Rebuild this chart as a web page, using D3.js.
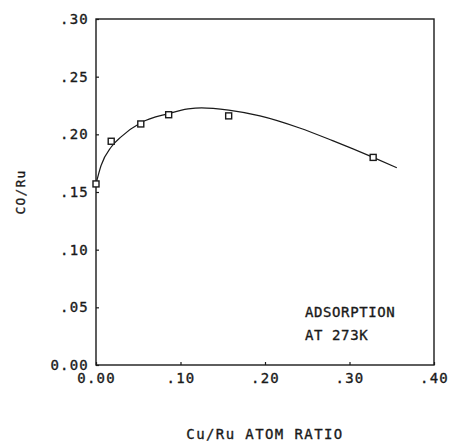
<!DOCTYPE html>
<html>
<head>
<meta charset="utf-8">
<script src="https://cdn.jsdelivr.net/npm/d3@7"></script>
<style>
  html, body { margin: 0; padding: 0; background: #fff; }
  svg text { font-family: "DejaVu Sans Mono", monospace; fill: #1a1a1a; stroke: #1a1a1a; stroke-width: 0.35px; }
</style>
</head>
<body>
<svg id="chart" width="450" height="443"></svg>
<script>
// Measured CO uptake per Ru atom versus Cu/Ru atom ratio
const ratioX = [0.000, 0.018, 0.053, 0.086, 0.157, 0.328];
const coPerRu = [0.157, 0.194, 0.209, 0.217, 0.216, 0.180];

// Smooth trend curve drawn through the data
const curveX = [0.000, 0.006, 0.018, 0.030, 0.053, 0.086, 0.109, 0.125, 0.157, 0.194, 0.241, 0.280, 0.328, 0.356];
const curveY = [0.157, 0.173, 0.189, 0.198, 0.210, 0.218, 0.222, 0.223, 0.221, 0.216, 0.2055, 0.1945, 0.180, 0.171];

// Axis ticks and their printed labels
const xTicks = [0.0, 0.1, 0.2, 0.3, 0.4];
const xTickLabels = ["0.00", ".10", ".20", ".30", ".40"];
const yTicks = [0.0, 0.05, 0.10, 0.15, 0.20, 0.25, 0.30];
const yTickLabels = ["0.00", ".05", ".10", ".15", ".20", ".25", ".30"];

const xTitle = "Cu/Ru ATOM RATIO";
const yTitle = "CO/Ru";
const noteLines = ["ADSORPTION", "AT 273K"];

const svg = d3.select("#chart");
const plotLeft = 96, plotRight = 434, plotTop = 19, plotBottom = 365;

const x = d3.scaleLinear().domain([0, 0.4]).range([plotLeft, plotRight]);
const y = d3.scaleLinear().domain([0, 0.30]).range([plotBottom, plotTop]);

const ink = "#1a1a1a";

// Frame
svg.append("rect")
  .attr("x", plotLeft).attr("y", plotTop)
  .attr("width", plotRight - plotLeft).attr("height", plotBottom - plotTop)
  .attr("fill", "none").attr("stroke", ink).attr("stroke-width", 1.4);

// Y axis: short inward ticks, labels to the left
const yAxis = d3.axisLeft(y)
  .tickValues(yTicks)
  .tickSizeInner(-3).tickSizeOuter(0)
  .tickPadding(7)
  .tickFormat((d, i) => yTickLabels[i]);
const gy = svg.append("g").attr("transform", `translate(${plotLeft},0)`).call(yAxis);
gy.select(".domain").remove();
gy.selectAll(".tick line").attr("stroke", ink).attr("stroke-width", 1.2);
gy.selectAll(".tick text")
  .attr("font-size", 14).attr("letter-spacing", 1.2)
  .attr("fill", ink).style("font-family", "'DejaVu Sans Mono', monospace");

// X axis: short inward ticks, labels below
const xAxis = d3.axisBottom(x)
  .tickValues(xTicks)
  .tickSizeInner(-3).tickSizeOuter(0)
  .tickPadding(8)
  .tickFormat((d, i) => xTickLabels[i]);
const gx = svg.append("g").attr("transform", `translate(0,${plotBottom})`).call(xAxis);
gx.select(".domain").remove();
gx.selectAll(".tick line").attr("stroke", ink).attr("stroke-width", 1.2);
gx.selectAll(".tick text")
  .attr("font-size", 14).attr("letter-spacing", 1.2)
  .attr("fill", ink).style("font-family", "'DejaVu Sans Mono', monospace");

// Trend curve
const line = d3.line()
  .x(d => x(d[0])).y(d => y(d[1]))
  .curve(d3.curveMonotoneX);
svg.append("path")
  .datum(curveX.map((v, i) => [v, curveY[i]]))
  .attr("d", line)
  .attr("fill", "none").attr("stroke", ink).attr("stroke-width", 1.2);

// Data markers: open squares
const s = 6;
svg.append("g").selectAll("rect")
  .data(ratioX.map((v, i) => [v, coPerRu[i]]))
  .join("rect")
  .attr("x", d => x(d[0]) - s / 2).attr("y", d => y(d[1]) - s / 2)
  .attr("width", s).attr("height", s)
  .attr("fill", "#fff").attr("stroke", ink).attr("stroke-width", 1.4);

// Axis titles
svg.append("text")
  .attr("x", (plotLeft + plotRight) / 2).attr("y", 439)
  .attr("text-anchor", "middle")
  .attr("font-size", 14).attr("letter-spacing", 1.4)
  .text(xTitle);

svg.append("text")
  .attr("transform", `translate(25,${(plotTop + plotBottom) / 2}) rotate(-90)`)
  .attr("text-anchor", "middle")
  .attr("font-size", 13).attr("letter-spacing", 1.2)
  .text(yTitle);

// In-plot annotation
svg.append("g").selectAll("text")
  .data(noteLines)
  .join("text")
  .attr("x", 305).attr("y", (d, i) => 317 + i * 23)
  .attr("font-size", 14).attr("letter-spacing", 0.6)
  .text(d => d);
</script>
</body>
</html>
